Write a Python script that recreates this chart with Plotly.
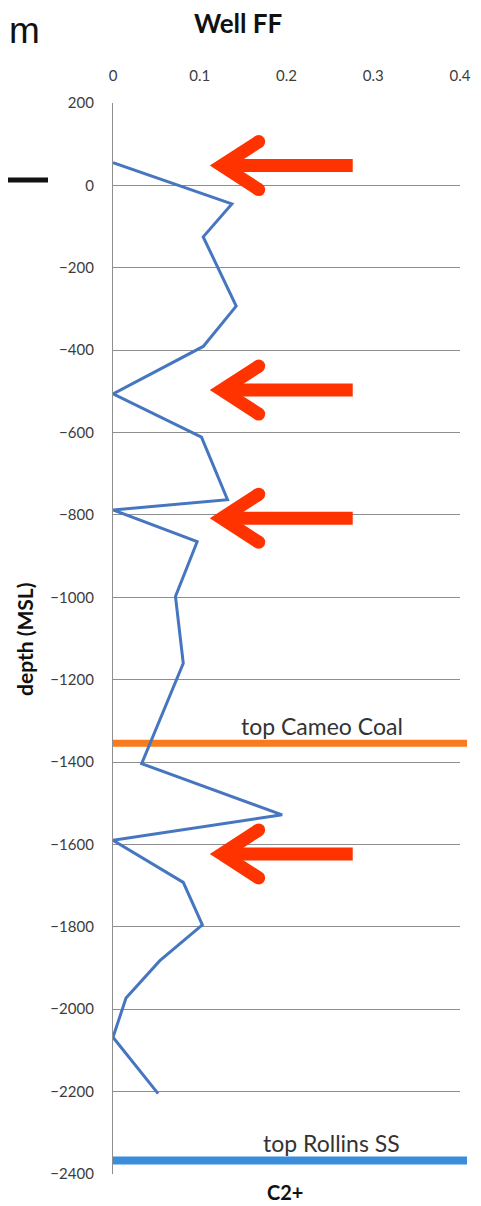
import plotly.graph_objects as go

# ---- data ----
C2_PLUS = [0.0, 0.137, 0.104, 0.142, 0.104, 0.0, 0.102, 0.132, 0.0, 0.097,
           0.072, 0.081, 0.033, 0.195, 0.0, 0.081, 0.103, 0.054, 0.015, 0.0, 0.052]
DEPTH = [55, -45, -125, -293, -391, -506, -611, -763, -788, -865,
         -998, -1160, -1404, -1528, -1590, -1692, -1795, -1882, -1973, -2068, -2205]

X_TICKS = [0, 0.1, 0.2, 0.3, 0.4]
X_TICK_TEXT = ["0", "0.1", "0.2", "0.3", "0.4"]
Y_TICKS = list(range(-2400, 201, 200))

HORIZONS = ["top Cameo Coal", "top Rollins SS"]
HORIZON_DEPTH = [-1354, -2367]
HORIZON_COLOR = ["#F97B1E", "#3A8DDB"]
HORIZON_WIDTH = [7, 8]

ARROW_DEPTH = [48, -497, -808, -1623]
ARROW_TIP_X = 0.1115

# ---- layout constants ----
OFF = 8                      # page body margin around the figure
W, H = 481 - OFF, 1206 - OFF
ML, MR, MT, MB = 105, 21, 95, 32
PW, PH = W - ML - MR, H - MT - MB


def px_x(px):
    """page x pixel -> paper fraction"""
    return (px - OFF - ML) / PW


def px_y(py):
    """page y pixel -> paper fraction"""
    return (H - MB - (py - OFF)) / PH


FONT = "Lato"
TICK_COLOR = "#3c3c3c"
GRID = "#8e8e8e"
RED = "#FF3300"

fig = go.Figure()
fig.add_trace(go.Scatter(
    x=C2_PLUS, y=DEPTH, mode="lines",
    line=dict(color="#4676C0", width=3),
    hoverinfo="skip", showlegend=False,
))

shapes = []
# horizon lines
for d, c, w in zip(HORIZON_DEPTH, HORIZON_COLOR, HORIZON_WIDTH):
    shapes.append(dict(type="line", xref="paper", yref="y", x0=0, x1=px_x(467),
                       y0=d, y1=d, line=dict(color=c, width=w), layer="between"))

# red arrows (pixel-sized, anchored at data positions)
for d in ARROW_DEPTH:
    common = dict(xref="x", yref="y", xsizemode="pixel", ysizemode="pixel",
                  xanchor=ARROW_TIP_X, yanchor=d, layer="above")
    shapes.append(dict(type="line", x0=14, x1=143, y0=0, y1=0,
                       line=dict(color=RED, width=13), **common))
    shapes.append(dict(type="path", path="M 49,24 L 12,0 L 49,-24",
                       line=dict(color=RED, width=13), **common))
    for s in (1, -1):
        shapes.append(dict(type="circle", x0=42.5, x1=55.5,
                           y0=s * 24 - 6.5, y1=s * 24 + 6.5,
                           fillcolor=RED, line=dict(width=0), **common))

# slide fragments at top-left
shapes.append(dict(type="line", xref="paper", yref="paper",
                   x0=px_x(OFF), x1=px_x(48), y0=px_y(180), y1=px_y(180),
                   line=dict(color="#111111", width=5)))

annotations = [
    dict(text="<b>Well FF</b>", xref="paper", yref="paper", x=px_x(237.5), y=px_y(23),
         xanchor="center", yanchor="middle",
         showarrow=False, font=dict(family=FONT, size=26, color="#111111")),
    dict(text="<b>depth (MSL)</b>", xref="paper", yref="paper", x=px_x(24), y=px_y(640),
         xanchor="center", yanchor="middle",
         textangle=-90, showarrow=False, font=dict(family=FONT, size=21, color="#111111")),
    dict(text="<b>C2+</b>", xref="paper", yref="paper", x=px_x(285), y=px_y(1192),
         xanchor="center", yanchor="middle",
         showarrow=False, font=dict(family=FONT, size=20, color="#111111")),
    dict(text="m", xref="paper", yref="paper", x=px_x(OFF), y=px_y(OFF + 0.5),
         xanchor="left", yanchor="top", showarrow=False, borderpad=0,
         font=dict(family="Liberation Sans", size=37, color="#111111")),
]
for name, d, cx in zip(HORIZONS, HORIZON_DEPTH, [322, 331]):
    annotations.append(dict(text=name, xref="paper", yref="y", x=px_x(cx), y=d,
                            xanchor="center", yanchor="middle",
                            yshift=17, showarrow=False,
                            font=dict(family=FONT, size=23, color="#333333")))

fig.update_layout(
    width=W, height=H, autosize=False,
    margin=dict(l=ML, r=MR, t=MT, b=MB, pad=0, autoexpand=False),
    paper_bgcolor="white", plot_bgcolor="white",
    showlegend=False,
    shapes=shapes, annotations=annotations,
    xaxis=dict(side="top", range=[0, 0.4], tickvals=X_TICKS, ticktext=X_TICK_TEXT,
               showgrid=False, zeroline=False, showline=False, automargin=False,
               ticks="", ticklabelstandoff=18,
               tickfont=dict(family=FONT, size=15, color=TICK_COLOR)),
    yaxis=dict(range=[-2400, 200], tickvals=Y_TICKS, automargin=False,
               showgrid=True, gridcolor=GRID, gridwidth=1.3,
               zeroline=False, showline=True, linecolor=GRID, linewidth=1.3,
               ticks="", ticklabelstandoff=15,
               tickfont=dict(family=FONT, size=15, color=TICK_COLOR)),
)

fig.write_html("out.html")
